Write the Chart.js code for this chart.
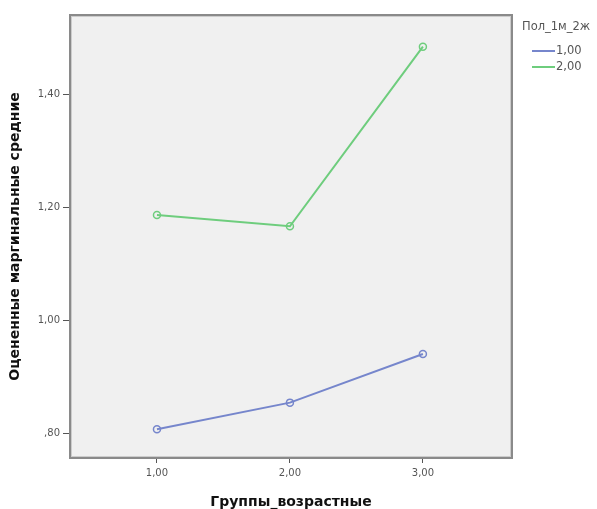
<!DOCTYPE html>
<html><head><meta charset="utf-8">
<script src="https://cdn.jsdelivr.net/npm/chart.js@4/dist/chart.umd.min.js"></script>
<style>html,body{margin:0;padding:0;background:#fff;}canvas{display:block;}</style>
</head><body>
<canvas id="c" width="597" height="509"></canvas>
<script>
const groups = [1, 2, 3];
const xTickValues = [1, 2, 3];
const yTickValues = [0.8, 1.0, 1.2, 1.4];
const seriesNames = ['1,00', '2,00'];
const male = [0.807, 0.854, 0.940];
const female = [1.186, 1.166, 1.484];
const legendTitle = 'Пол_1м_2ж';
const xTitle = 'Группы_возрастные';
const yTitle = 'Оцененные маргинальные средние';

const fmt = v => { let s = v.toFixed(2).replace('.', ','); if (s.startsWith('0')) s = s.slice(1); return s; };
const colors = ['rgb(118,134,204)', 'rgb(110,205,125)'];
const font = "'DejaVu Sans', Verdana, sans-serif";

const framePlugin = {
  id: 'frame',
  beforeDraw(chart) {
    const {ctx, chartArea: a} = chart;
    ctx.save();
    ctx.fillStyle = '#f0f0f0';
    ctx.fillRect(a.left, a.top, a.right - a.left, a.bottom - a.top);
    ctx.restore();
  },
  afterDatasetsDraw(chart) {
    const {ctx, chartArea: a} = chart;
    ctx.save();
    ctx.strokeStyle = '#8a8a8a';
    ctx.lineWidth = 2;
    ctx.strokeRect(a.left, a.top, a.right - a.left, a.bottom - a.top);
    ctx.strokeStyle = 'rgba(150,150,150,0.4)';
    ctx.lineWidth = 1;
    ctx.strokeRect(a.left + 1.5, a.top + 1.5, a.right - a.left - 3, a.bottom - a.top - 3);
    ctx.restore();
  },
  afterDraw(chart) {
    const {ctx, chartArea: a} = chart;
    ctx.save();
    ctx.font = '11.5px ' + font;
    ctx.fillStyle = '#555';
    ctx.textBaseline = 'middle';
    ctx.textAlign = 'left';
    const lx = a.right + 10;
    ctx.fillText(legendTitle, lx, 27);
    chart.data.datasets.forEach((ds, i) => {
      const y = 51 + i * 16;
      ctx.strokeStyle = ds.borderColor;
      ctx.lineWidth = 2;
      ctx.beginPath();
      ctx.moveTo(lx + 10, y);
      ctx.lineTo(lx + 33, y);
      ctx.stroke();
      ctx.fillStyle = '#555';
      ctx.fillText(ds.label, lx + 34, y);
    });
    ctx.restore();
  }
};

const mk = (arr) => groups.map((g, i) => ({x: g, y: arr[i]}));

new Chart(document.getElementById('c'), {
  type: 'line',
  data: {
    datasets: [
      {label: seriesNames[0], data: mk(male), borderColor: colors[0], backgroundColor: 'rgba(0,0,0,0)', borderWidth: 2, pointRadius: 3.5, pointBorderWidth: 1.5, pointBackgroundColor: 'rgba(0,0,0,0)', pointBorderColor: colors[0], tension: 0},
      {label: seriesNames[1], data: mk(female), borderColor: colors[1], backgroundColor: 'rgba(0,0,0,0)', borderWidth: 2, pointRadius: 3.5, pointBorderWidth: 1.5, pointBackgroundColor: 'rgba(0,0,0,0)', pointBorderColor: colors[1], tension: 0}
    ]
  },
  options: {
    responsive: false,
    animation: false,
    layout: {padding: {left: 0, right: 85, top: 15, bottom: 0}},
    plugins: {legend: {display: false}, tooltip: {enabled: false}},
    scales: {
      x: {
        type: 'linear', min: 0.346, max: 3.67,
        afterBuildTicks: s => { s.ticks = xTickValues.map(v => ({value: v})); },
        afterFit: s => { s.height = 51; },
        grid: {drawOnChartArea: false, drawTicks: true, tickLength: 5, color: '#555'},
        border: {display: false},
        ticks: {callback: v => fmt(v), font: {size: 10, family: font}, color: '#555', padding: 4, maxRotation: 0},
        title: {display: true, text: xTitle, font: {size: 14, weight: 'bold', family: font, lineHeight: 1}, color: '#111', padding: {top: 0, bottom: 0}}
      },
      y: {
        type: 'linear', min: 0.756, max: 1.54,
        afterBuildTicks: s => { s.ticks = yTickValues.map(v => ({value: v})); },
        afterFit: s => { s.width = 70; },
        grid: {drawOnChartArea: false, drawTicks: true, tickLength: 7, color: '#555'},
        border: {display: false},
        ticks: {callback: v => fmt(v), font: {size: 10, family: font}, color: '#555', padding: 3},
        title: {display: true, text: yTitle, font: {size: 14, weight: 'bold', family: font, lineHeight: 1}, color: '#111', padding: {top: 8, bottom: 0}}
      }
    }
  },
  plugins: [framePlugin]
});
</script>
</body></html>
